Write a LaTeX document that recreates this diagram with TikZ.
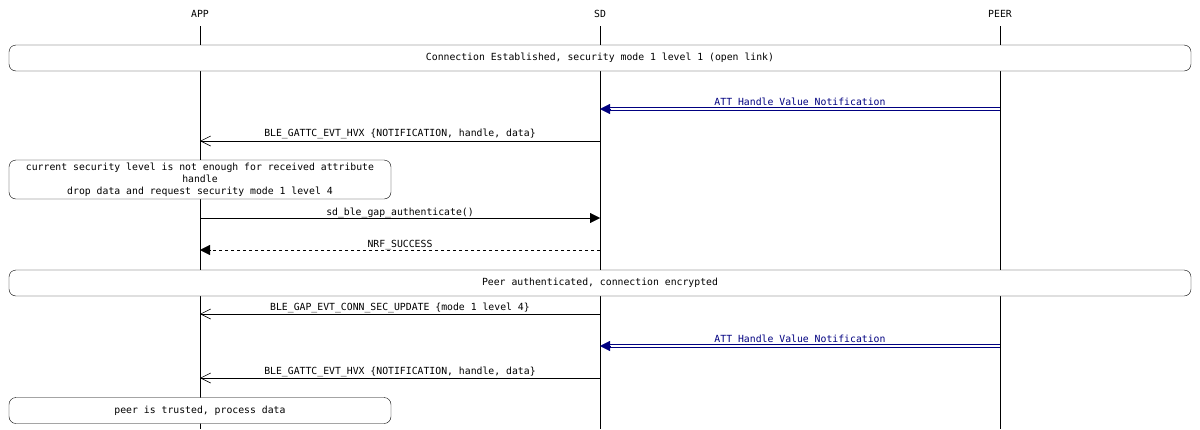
\documentclass[tikz,border=0pt]{standalone}
\usepackage{fontspec}
\setmonofont{DejaVu Sans Mono}
\usetikzlibrary{arrows.meta}
\definecolor{navy}{RGB}{0,0,128}
\begin{document}
\begin{tikzpicture}[x=1pt,y=-1pt,font=\ttfamily\fontsize{9.8}{11}\selectfont,
  lbl/.style={inner sep=1pt},
  bx/.style={draw,fill=white,rounded corners=7pt,inner sep=0pt},
  open/.style={-{Straight Barb[length=10pt,width=10pt,line width=0.6pt]}},
  filled/.style={-{Triangle[length=10pt,width=10pt]}},
  dbl/.style={draw=navy,line width=0.8pt}]
\useasboundingbox (0,0) rectangle (1200,429);
\node (A) at (200,14) {APP};
\node (S) at (600,14) {SD};
\node (P) at (1000,14) {PEER};
\coordinate (Ae) at (200,429);\coordinate (Se) at (600,429);\coordinate (Pe) at (1000,429);
\draw (200,26) -- (Ae); \draw (600,26) -- (Se); \draw (1000,26) -- (Pe);
\node[bx,minimum width=1182pt,minimum height=26pt] (b1) at (600,58) {Connection Established, security mode 1 level 1 (open link)};
\coordinate (p1) at (1000,109);\coordinate (s1) at (600,109);
\draw[dbl] ([yshift=-1.6pt]p1) -- ([yshift=-1.6pt,xshift=6pt]s1);
\draw[dbl] ([yshift=1.6pt]p1) -- ([yshift=1.6pt,xshift=6pt]s1);
\draw[navy,filled] ([xshift=10pt]s1) -- (s1);
\node[lbl,text=navy] (l1) at (800,103) {\underline{ATT Handle Value Notification}};
\coordinate (s2) at (600,141);\coordinate (a2) at (200,141);
\draw[open] (s2) -- (a2);
\node[lbl] (l2) at (400,134) {BLE\_GATTC\_EVT\_HVX \{NOTIFICATION, handle, data\}};
\node[bx,minimum width=382pt,minimum height=39pt,align=center,font=\ttfamily\fontsize{9.8}{12}\selectfont] (n1) at (200,179.5) {current security level is not enough for received attribute\\handle\\drop data and request security mode 1 level 4};
\coordinate (a3) at (200,218);\coordinate (s3) at (600,218);
\draw[filled] (a3) -- (s3);
\node[lbl] (l3) at (400,213) {sd\_ble\_gap\_authenticate()};
\coordinate (s4) at (600,250);\coordinate (a4) at (200,250);
\draw[filled,dashed] (s4) -- (a4);
\node[lbl] (l4) at (400,245) {NRF\_SUCCESS};
\node[bx,minimum width=1182pt,minimum height=26pt] (b2) at (600,283) {Peer authenticated, connection encrypted};
\coordinate (s5) at (600,314);\coordinate (a5) at (200,314);
\draw[open] (s5) -- (a5);
\node[lbl] (l5) at (400,308) {BLE\_GAP\_EVT\_CONN\_SEC\_UPDATE \{mode 1 level 4\}};
\coordinate (p6) at (1000,346);\coordinate (s6) at (600,346);
\draw[dbl] ([yshift=-1.6pt]p6) -- ([yshift=-1.6pt,xshift=6pt]s6);
\draw[dbl] ([yshift=1.6pt]p6) -- ([yshift=1.6pt,xshift=6pt]s6);
\draw[navy,filled] ([xshift=10pt]s6) -- (s6);
\node[lbl,text=navy] (l6) at (800,340) {\underline{ATT Handle Value Notification}};
\coordinate (s7) at (600,378);\coordinate (a7) at (200,378);
\draw[open] (s7) -- (a7);
\node[lbl] (l7) at (400,372) {BLE\_GATTC\_EVT\_HVX \{NOTIFICATION, handle, data\}};
\node[bx,minimum width=382pt,minimum height=26pt] (n2) at (200,410.5) {peer is trusted, process data};
\end{tikzpicture}
\end{document}
